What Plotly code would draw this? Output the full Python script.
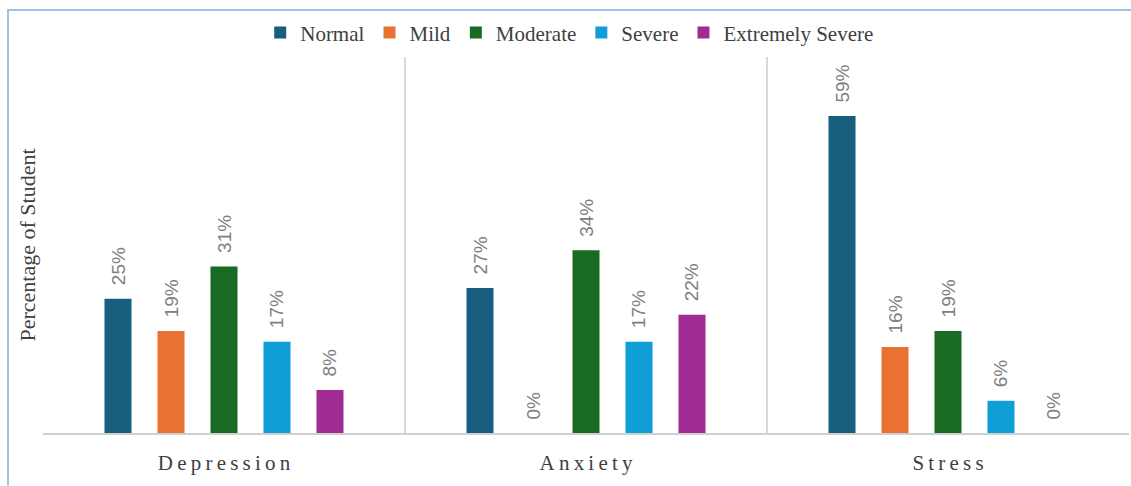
import plotly.graph_objects as go

categories = ["Depression", "Anxiety", "Stress"]
severity = ["Normal", "Mild", "Moderate", "Severe", "Extremely Severe"]
normal = [25, 27, 59]
mild = [19, 0, 16]
moderate = [31, 34, 19]
severe = [17, 17, 6]
extremely_severe = [8, 22, 0]
colors = ["#175e7f", "#e97132", "#196b24", "#0f9ed5", "#a02b93"]

series = [normal, mild, moderate, severe, extremely_severe]

# letter-spaced category labels (as in the original)
tick_text = ["\u2009".join(c) for c in categories]

fig = go.Figure()
for name, vals, col in zip(severity, series, colors):
    fig.add_trace(go.Bar(
        x=categories, y=vals, name=name,
        marker=dict(color=col, line=dict(width=0)),
        texttemplate="\u00a0\u00a0%{y}%",
        textposition="outside", textangle=-90, constraintext="none",
        textfont=dict(family="Liberation Sans", size=19, color="#808080"),
        cliponaxis=False,
    ))

fig.update_layout(
    width=1131, height=486,
    margin=dict(l=43, r=2, t=57, b=53),
    paper_bgcolor="white", plot_bgcolor="white",
    barmode="group", bargap=0.268, bargroupgap=0.49,
    font=dict(family="Liberation Serif, serif", color="#404040"),
    legend=dict(orientation="h", x=0.485, xanchor="center", y=1.064, yanchor="middle",
                font=dict(family="Liberation Serif, serif", size=21, color="#404040"),
                itemwidth=30, traceorder="normal"),
    xaxis=dict(tickmode="array", tickvals=categories, ticktext=tick_text,
               tickson="boundaries", showgrid=True, gridcolor="#d9d9d9", gridwidth=1.5,
               ticks="", showline=True, linecolor="#d0d0d0", linewidth=2,
               ticklabelstandoff=10,
               tickfont=dict(family="Liberation Serif, serif", size=21, color="#404040")),
    yaxis=dict(range=[0, 70], showgrid=False, showticklabels=False, zeroline=False,
               title=dict(text="Percentage of Student", standoff=0,
                          font=dict(family="Liberation Serif, serif", size=22, color="#404040"))),
)

# light blue frame (left and top edges)
fig.add_shape(type="path", xref="paper", yref="paper",
              path="M -0.0322 -0.14 L -0.0322 1.125 L 1.05 1.125",
              line=dict(color="#9dc3e6", width=2))

fig.write_html("out.html")
